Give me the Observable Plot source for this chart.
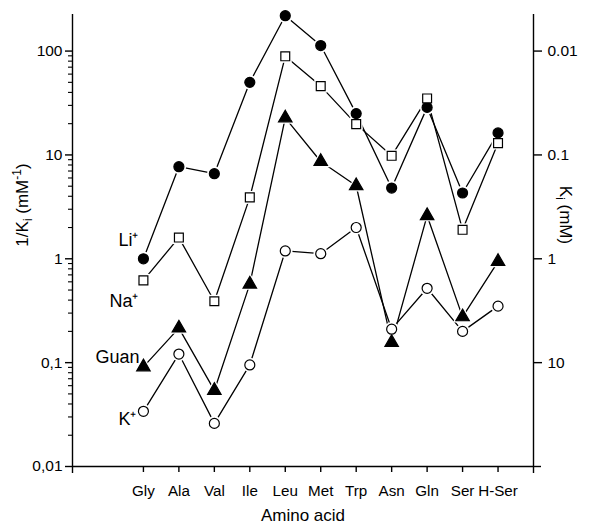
<!DOCTYPE html>
<html><head><meta charset="utf-8">
<script src="https://cdn.jsdelivr.net/npm/d3@7"></script>
<script src="https://cdn.jsdelivr.net/npm/@observablehq/plot@0.6"></script>
<style>body{margin:0;background:#fff;} svg{display:block;}</style>
</head><body><div id="chart"></div>
<script>
const aminoAcids = ["Gly","Ala","Val","Ile","Leu","Met","Trp","Asn","Gln","Ser","H-Ser"];
const seriesNames = ["Li⁺","Na⁺","Guan","K⁺"];
const liValues   = [1.0, 7.7, 6.6, 50, 219, 113, 25, 4.8, 28.7, 4.3, 16.3];
const naValues   = [0.62, 1.6, 0.39, 3.9, 89, 46, 19.8, 9.8, 35, 1.9, 13];
const guanValues = [0.091, 0.215, 0.054, 0.57, 22.7, 8.65, 5.05, 0.156, 2.6, 0.276, 0.94];
const kValues    = [0.034, 0.121, 0.026, 0.095, 1.19, 1.12, 2.0, 0.21, 0.52, 0.20, 0.35];
const leftTicks = [0.01, 0.1, 1, 10, 100];
const leftTickLabels = ["0,01","0,1","1","10","100"];
const rightTicksKi = [0.01, 0.1, 1, 10];
const rightTickLabels = ["0.01","0.1","1","10"];

const valuesBySeries = [liValues, naValues, guanValues, kValues];
const rows = [];
seriesNames.forEach((s, si) => valuesBySeries[si].forEach((v, i) => rows.push({series: s, i, aa: aminoAcids[i], value: v})));

const minorTicks = [];
for (const base of [0.01, 0.1, 1, 10]) for (let m = 2; m <= 9; m++) minorTicks.push(+(base * m).toPrecision(3));
const rightTickPos = rightTicksKi.map(k => 1 / k);

const font = "Liberation Sans, Arial, Helvetica, sans-serif";
const lw = 1.4;

const plot = Plot.plot({
  width: 591, height: 528,
  marginLeft: 72, marginRight: 58, marginTop: 14, marginBottom: 62,
  style: {fontFamily: font, fontSize: "15px", background: "white", color: "black"},
  x: {type: "linear", domain: [-2, 11], axis: null},
  y: {type: "log", domain: [0.01, 225], axis: null},
  symbol: {domain: seriesNames, range: ["circle", "square", "triangle", "circle"]},
  color: {domain: seriesNames, range: ["black", "white", "black", "white"]},
  marks: [
    // axis lines
    Plot.ruleX([-2], {stroke: "black", strokeWidth: lw}),
    Plot.ruleX([11], {stroke: "black", strokeWidth: lw}),
    Plot.ruleY([0.01], {stroke: "black", strokeWidth: lw}),
    // left axis
    Plot.axisY({anchor: "left", ticks: leftTicks, tickSize: 7, tickPadding: 3, fontSize: 15.5, strokeWidth: lw,
      tickFormat: d => leftTickLabels[leftTicks.findIndex(t => Math.abs(t - d) < 1e-9 * t)], label: null}),
    Plot.axisY({anchor: "left", ticks: minorTicks, tickSize: 4, strokeWidth: 1.1, tickFormat: () => "", label: null}),
    // right axis (K_i = 1 / (1/K_i))
    Plot.axisY({anchor: "right", ticks: rightTickPos, tickSize: 8, tickPadding: 6, fontSize: 15.5, strokeWidth: lw,
      tickFormat: d => rightTickLabels[rightTickPos.findIndex(t => Math.abs(t - d) < 1e-9 * t)], label: null}),
    Plot.axisY({anchor: "right", ticks: [0.01], tickSize: 7, strokeWidth: lw, tickFormat: () => "", label: null}),
    // x axis
    Plot.axisX({ticks: d3.range(aminoAcids.length), tickSize: 6, tickPadding: 13, fontSize: 15.2, strokeWidth: lw,
      tickFormat: i => aminoAcids[i], label: null}),
    Plot.axisX({ticks: [-2, 11], tickSize: 7, strokeWidth: lw, tickFormat: () => "", label: null}),
    // series lines
    Plot.line(rows, {x: "i", y: "value", z: "series", stroke: "black", strokeWidth: 1.3}),
    // white halos leaving small gaps around markers
    Plot.dot(rows, {x: "i", y: "value", symbol: "series", r: 7.3, fill: "white", stroke: "none"}),
    // markers
    Plot.dot(rows, {x: "i", y: "value", symbol: "series", r: 5, fill: "series", stroke: "black", strokeWidth: 1.2}),
    // series labels next to Gly
    Plot.text([seriesNames[0]], {x: 0, y: liValues[0], text: d => d, textAnchor: "end", dx: -5, dy: -19, fontSize: 18}),
    Plot.text([seriesNames[1]], {x: 0, y: naValues[0], text: d => d, textAnchor: "end", dx: -5, dy: 21, fontSize: 18}),
    Plot.text([seriesNames[2]], {x: 0, y: guanValues[0], text: d => d, textAnchor: "end", dx: -4, dy: -10, fontSize: 18}),
    Plot.text([seriesNames[3]], {x: 0, y: kValues[0], text: d => d, textAnchor: "end", dx: -7, dy: 8, fontSize: 18})
  ]
});

document.getElementById("chart").appendChild(plot);

// axis titles
const svg = d3.select(plot);
const lt = svg.append("text")
  .attr("transform", "translate(28,205) rotate(-90)")
  .attr("text-anchor", "middle").attr("font-family", font).attr("font-size", 17).attr("fill", "black");
lt.append("tspan").text("1/K");
lt.append("tspan").attr("dy", 4).attr("font-size", 12).text("i");
lt.append("tspan").attr("dy", -4).text(" (mM");
lt.append("tspan").attr("dy", -7).attr("font-size", 12).text("-1");
lt.append("tspan").attr("dy", 7).text(")");

const rt = svg.append("text")
  .attr("transform", "translate(560,215) rotate(90)")
  .attr("text-anchor", "middle").attr("font-family", font).attr("font-size", 17).attr("fill", "black");
rt.append("tspan").text("K");
rt.append("tspan").attr("dy", 4).attr("font-size", 12).text("i");
rt.append("tspan").attr("dy", -4).text(" (mM)");

svg.append("text")
  .attr("x", 303).attr("y", 521)
  .attr("text-anchor", "middle").attr("font-family", font).attr("font-size", 17).attr("fill", "black")
  .text("Amino acid");
</script>
</body></html>
